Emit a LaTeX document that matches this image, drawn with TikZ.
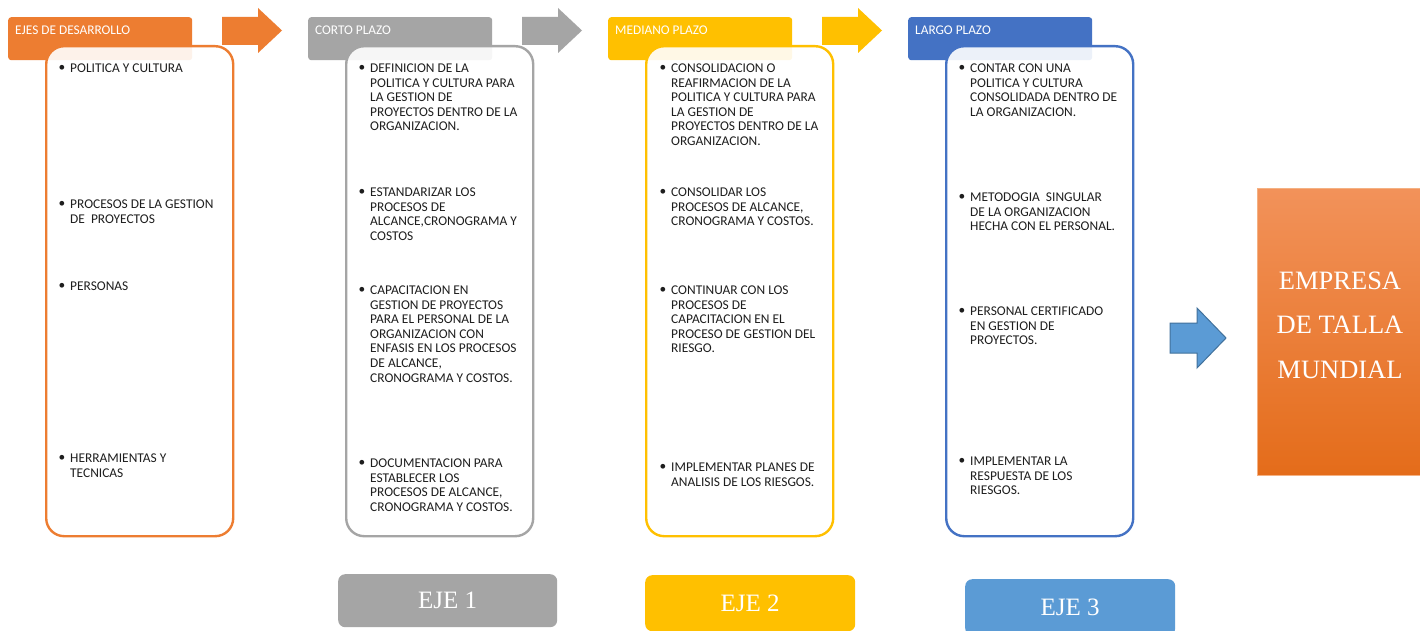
\documentclass[tikz,border=0pt]{standalone}
\usepackage{fontspec}
\setmainfont{Liberation Serif}
\newfontfamily\calfont{Carlito}
\usetikzlibrary{calc}
\definecolor{corange}{HTML}{ED7D31}
\definecolor{cgray}{HTML}{A5A5A5}
\definecolor{cyellow}{HTML}{FFC000}
\definecolor{cblue}{HTML}{4472C4}
\definecolor{clblue}{HTML}{5B9BD5}
\definecolor{cdblue}{HTML}{41719C}
\definecolor{ctext}{HTML}{1E1E1E}
\definecolor{bigtop}{HTML}{F2925A}
\definecolor{bigbot}{HTML}{E46C1A}
\definecolor{bigedge}{HTML}{F4B183}
\newcommand\bitem[4]{%
  \node[itemtxt, anchor=north west] (#1) at (#2, #3-4.3) {#4};
  \node[bul] (#1b) at (#2-8, #3) {\textbullet};}
\newcommand\harrow[2]{%
  \fill[#2] (#1,17) -- (#1+36,17) -- (#1+36,8) -- (#1+60,30.5) -- (#1+36,53) -- (#1+36,45) -- (#1,45) -- cycle;}
\begin{document}
\begin{tikzpicture}[x=1pt,y=-1pt,
  hdr/.style={rounded corners=3pt, minimum width=184pt, minimum height=43pt, anchor=north west, inner sep=0pt},
  hdrtxt/.style={font={\calfont\fontsize{13.3}{15}\selectfont}, text=white, anchor=west, inner sep=0pt},
  cbox/.style={rounded corners=18pt, line width=2.4pt, fill=white, fill opacity=0.9, minimum width=187pt, minimum height=490pt, anchor=north west, inner sep=0pt},
  itemtxt/.style={font={\calfont\fontsize{13.4}{14.6}\selectfont}, text=ctext, align=left, inner sep=0pt},
  bul/.style={font={\calfont\fontsize{13.4}{14.6}\selectfont}, text=ctext, inner sep=0pt},
  ejebox/.style={rounded corners=7pt, minimum width=210pt, anchor=north west, inner sep=0pt, text=white, font={\fontsize{25}{28}\selectfont}},
]
\useasboundingbox[fill=white] (0,0) rectangle (1420,631);

% headers
\node[hdr, fill=corange] (h0) at (8,17) {};
\node[hdr, fill=cgray] (h1) at (308,17) {};
\node[hdr, fill=cyellow] (h2) at (608,17) {};
\node[hdr, fill=cblue] (h3) at (908,17) {};
\node[hdrtxt] (h0t) at (15,30) {EJES DE DESARROLLO};
\node[hdrtxt] (h1t) at (315,30) {CORTO PLAZO};
\node[hdrtxt] (h2t) at (615,30) {MEDIANO PLAZO};
\node[hdrtxt] (h3t) at (915,30) {LARGO PLAZO};

% arrows
\harrow{222}{corange}
\harrow{522}{cgray}
\harrow{822}{cyellow}

% content boxes
\node[cbox, draw=corange] (c0) at (45,45) {};
\node[cbox, draw=cgray] (c1) at (345,45) {};
\node[cbox, draw=cyellow] (c2) at (645,45) {};
\node[cbox, draw=cblue] (c3) at (945,45) {};

% orange items
\bitem{o1}{70}{68}{POLITICA Y CULTURA}
\bitem{o2}{70}{204}{PROCESOS DE LA GESTION\\DE\ \ PROYECTOS}
\bitem{o3}{70}{286}{PERSONAS}
\bitem{o4}{70}{458}{HERRAMIENTAS Y\\TECNICAS}

% gray items
\bitem{g1}{370}{68}{DEFINICION DE LA\\POLITICA Y CULTURA PARA\\LA GESTION DE\\PROYECTOS DENTRO DE LA\\ORGANIZACION.}
\bitem{g2}{370}{192}{ESTANDARIZAR LOS\\PROCESOS DE\\ALCANCE,CRONOGRAMA Y\\COSTOS}
\bitem{g3}{370}{290}{CAPACITACION EN\\GESTION DE PROYECTOS\\PARA EL PERSONAL DE LA\\ORGANIZACION CON\\ENFASIS EN LOS PROCESOS\\DE ALCANCE,\\CRONOGRAMA Y COSTOS.}
\bitem{g4}{370}{463}{DOCUMENTACION PARA\\ESTABLECER LOS\\PROCESOS DE ALCANCE,\\CRONOGRAMA Y COSTOS.}

% yellow items
\bitem{y1}{671}{68}{CONSOLIDACION O\\REAFIRMACION DE LA\\POLITICA Y CULTURA PARA\\LA GESTION DE\\PROYECTOS DENTRO DE LA\\ORGANIZACION.}
\bitem{y2}{671}{192}{CONSOLIDAR LOS\\PROCESOS DE ALCANCE,\\CRONOGRAMA Y COSTOS.}
\bitem{y3}{671}{290}{CONTINUAR CON LOS\\PROCESOS DE\\CAPACITACION EN EL\\PROCESO DE GESTION DEL\\RIESGO.}
\bitem{y4}{671}{467}{IMPLEMENTAR PLANES DE\\ANALISIS DE LOS RIESGOS.}

% blue items
\bitem{b1}{970}{68}{CONTAR CON UNA\\POLITICA Y CULTURA\\CONSOLIDADA DENTRO DE\\LA ORGANIZACION.}
\bitem{b2}{970}{197}{METODOGIA\ \ SINGULAR\\DE LA ORGANIZACION\\HECHA CON EL PERSONAL.}
\bitem{b3}{970}{311}{PERSONAL CERTIFICADO\\EN GESTION DE\\PROYECTOS.}
\bitem{b4}{970}{461}{IMPLEMENTAR LA\\RESPUESTA DE LOS\\RIESGOS.}

% right arrow and final box
\draw[fill=clblue, draw=cdblue, line width=1pt] (1170,323) -- (1197,323) -- (1197,308) -- (1226,338) -- (1197,368) -- (1197,353) -- (1170,353) -- cycle;
\node[top color=bigtop, bottom color=bigbot, draw=bigedge, line width=0.8pt, minimum width=165pt, minimum height=287pt, anchor=north west, inner sep=0pt] (emp) at (1257,188) {};
\node[text=white, align=center, font={\fontsize{26.5}{44.5}\selectfont}, inner sep=0pt] (empt) at (1340,325) {EMPRESA\\DE TALLA\\MUNDIAL};

% bottom EJE boxes
\node[ejebox, fill=cgray, minimum width=219pt, minimum height=53pt] (e1) at (338,574) {EJE 1};
\node[ejebox, fill=cyellow, minimum height=56pt] (e2) at (645,575) {EJE 2};
\node[ejebox, fill=clblue, minimum height=56pt] (e3) at (965,579) {EJE 3};
\end{tikzpicture}
\end{document}
